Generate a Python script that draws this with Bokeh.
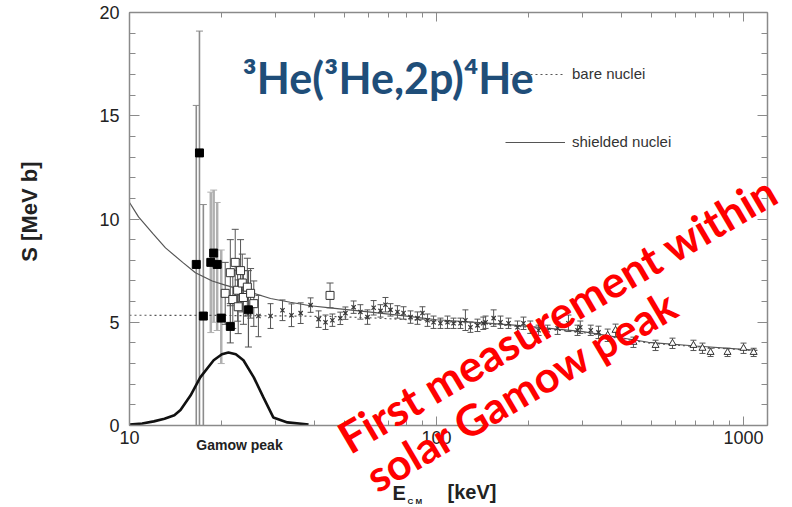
import numpy as np
from bokeh.plotting import figure
from bokeh.models import (ColumnDataSource, Whisker, TeeHead, Label, Legend, LegendItem,
                          LogAxis, LinearAxis, LogTicker, SingleIntervalTicker,
                          BasicTickFormatter)
from bokeh.embed import file_html
from bokeh.resources import INLINE

# ---------------- data ----------------
# shielded-nuclei curve (solid)
E_shielded = [10, 10.7, 11.9, 13.1, 14.9, 16.4, 18.6, 20.5, 24.8, 28.8, 33.4, 38.8, 45,
              60, 80, 100, 150, 200, 300, 490, 700, 1110]
S_shielded = [10.8, 10.1, 9.3, 8.6, 7.9, 7.4, 7.0, 6.8, 6.45, 6.15, 5.97, 5.8, 5.7,
              5.5, 5.3, 5.12, 4.95, 4.8, 4.55, 4.03, 3.85, 3.64]
# bare-nuclei curve (dotted)
E_bare = [10, 20, 30, 45, 60, 100, 150, 200, 300, 490, 700, 1110]
S_bare = [5.34, 5.33, 5.31, 5.28, 5.22, 5.06, 4.9, 4.76, 4.5, 4.0, 3.82, 3.62]
# Gamow peak (arbitrary units)
E_gamow = [10, 11, 12, 13, 14, 14.66, 15.8, 17.0, 18.8, 20.0, 21.0, 22.2, 23.5, 25.4,
           27.3, 29.4, 32.7, 38.3]
G_gamow = [0.05, 0.1, 0.2, 0.33, 0.5, 0.75, 1.45, 2.33, 3.16, 3.45, 3.54, 3.45, 3.16,
           2.33, 1.36, 0.39, 0.15, 0.05]

# LUNA (filled squares)
E_luna = [16.5, 16.9, 17.4, 18.4, 18.8, 19.3, 19.9, 21.3, 24.4]
S_luna = [7.8, 13.2, 5.3, 7.9, 8.35, 7.8, 5.2, 4.8, 5.6]
S_luna_lo = [0, 0, 0, 4.5, 5.0, 4.6, 3.0, 4.0, 3.8]
S_luna_hi = [15.5, 19.1, 10.7, 11.3, 11.4, 10.8, 8.5, 5.9, 7.5]

# open squares
E_open = [20.5, 21.3, 21.7, 22.1, 22.5, 22.6, 23.0, 23.3, 23.5, 24.2, 24.8, 25.4, 45.0]
S_open = [6.4, 7.4, 6.1, 7.9, 6.55, 5.75, 7.5, 6.9, 6.2, 6.7, 6.4, 5.9, 6.3]
err_open = [1.5, 1.6, 1.4, 1.6, 1.5, 1.3, 1.5, 1.4, 1.3, 1.4, 1.2, 1.1, 0.6]

# crosses
E_cross = [26.3, 28.8, 31.5, 33.7, 36.1, 38.9, 41.3, 43.5, 45.8, 48.6,
           50.5, 53.7, 56.5, 59.6, 62.4, 65.7, 68.2, 70.8, 74.6, 78.1,
           82.3, 86.7, 90.0, 93.5, 97.8, 103, 108.6, 113.6, 119.7, 124.2,
           129, 136, 142, 144.5, 153.5, 161.6, 171.6, 183.6, 192, 202,
           215, 230, 248, 269, 288, 294, 318, 337]
S_cross = [5.3, 5.3, 5.58, 5.34, 5.44, 5.83, 5.15, 5.0, 5.1, 5.19,
           5.44, 5.73, 5.5, 5.25, 5.7, 5.55, 5.85, 5.6, 5.5, 5.45,
           5.25, 5.2, 5.45, 5.1, 5.0, 4.95, 5.0, 4.95, 4.95, 5.1,
           4.76, 4.85, 4.95, 5.0, 5.2, 5.0, 4.95, 4.76, 4.95, 4.76,
           4.61, 4.61, 4.71, 4.95, 4.61, 4.76, 4.61, 4.51]
err_cross = [1.0, 0.6, 0.5, 0.55, 0.5, 0.35, 0.4, 0.35, 0.3, 0.3,
             0.3, 0.3, 0.35, 0.35, 0.35, 0.3, 0.35, 0.3, 0.3, 0.3,
             0.3, 0.3, 0.3, 0.3, 0.3, 0.25, 0.3, 0.25, 0.25, 0.5,
             0.25, 0.3, 0.3, 0.3, 0.4, 0.3, 0.25, 0.3, 0.3, 0.3,
             0.25, 0.25, 0.3, 0.4, 0.25, 0.3, 0.25, 0.3]

# triangles
E_tri = [361, 383, 438, 517, 587, 687, 735, 781, 887, 1000, 1079]
S_tri = [4.37, 4.61, 4.03, 3.88, 3.98, 3.88, 3.74, 3.54, 3.54, 3.74, 3.54]
err_tri = [0.3, 0.3, 0.25, 0.25, 0.25, 0.25, 0.25, 0.2, 0.2, 0.25, 0.2]

X_MIN, X_MAX = 10, 1197      # plotted energy range (keV)
Y_MIN, Y_MAX = 0, 20         # plotted S range

# ---------------- layout (pixels of the plotting box in the 792x507 canvas) ----------------
W, H = 792, 507
L, R, T, B = 129, 767, 12, 425
dec_px = (R - L) / (np.log10(X_MAX) - np.log10(X_MIN))
y_px = (B - T) / (Y_MAX - Y_MIN)
x_start = 10 ** (np.log10(X_MIN) - L / dec_px)
x_end = 10 ** (np.log10(X_MIN) + (W - L) / dec_px)
y_start = Y_MIN - (H - B) / y_px
y_end = Y_MAX + T / y_px


def at(px, py):
    """canvas pixel -> data coordinates, for placing annotations"""
    return 10 ** (np.log10(X_MIN) + (px - L) / dec_px), Y_MIN + (B - py) / y_px


p = figure(width=W, height=H, x_axis_type="log", x_range=(x_start, x_end),
           y_range=(y_start, y_end), output_backend="svg", toolbar_location=None,
           min_border=0, min_border_left=0, min_border_right=0, min_border_top=0,
           min_border_bottom=0)
p.xgrid.visible = False
p.ygrid.visible = False
p.outline_line_color = None
p.background_fill_color = "white"
p.border_fill_color = "white"

AX = "#8a8a8a"
LBL = "#222222"


def style_axis(ax, show_labels):
    ax.axis_line_color = AX
    ax.axis_line_width = 1.5
    ax.major_tick_line_color = AX
    ax.minor_tick_line_color = AX
    ax.major_tick_in = 9
    ax.major_tick_out = 0
    ax.minor_tick_in = 5
    ax.minor_tick_out = 0
    if show_labels:
        ax.major_label_text_font = "Liberation Sans"
        ax.major_label_text_font_size = "18px"
        ax.major_label_text_color = LBL
    else:
        ax.major_label_text_font_size = "1px"
        ax.major_label_text_alpha = 0
        ax.major_label_standoff = 0


xb = p.xaxis[0]
xb.ticker = LogTicker(num_minor_ticks=10, mantissas=[1])
xb.formatter = BasicTickFormatter(use_scientific=False)
style_axis(xb, True)
xb.major_label_standoff = 5
xb.fixed_location = Y_MIN
xb.bounds = (X_MIN, X_MAX)

yl = p.yaxis[0]
yl.ticker = SingleIntervalTicker(interval=5, num_minor_ticks=5)
style_axis(yl, True)
yl.major_tick_in = 10
yl.minor_tick_in = 6
yl.major_label_standoff = 10
yl.fixed_location = X_MIN
yl.bounds = (Y_MIN, Y_MAX)

xt = LogAxis(ticker=LogTicker(num_minor_ticks=10, mantissas=[1]),
             formatter=BasicTickFormatter(use_scientific=False))
style_axis(xt, False)
xt.fixed_location = Y_MAX
xt.bounds = (X_MIN, X_MAX)
p.add_layout(xt, "above")
yr = LinearAxis(ticker=SingleIntervalTicker(interval=5, num_minor_ticks=5))
style_axis(yr, False)
yr.major_tick_in = 10
yr.minor_tick_in = 6
yr.fixed_location = X_MAX
yr.bounds = (Y_MIN, Y_MAX)
p.add_layout(yr, "right")


# ---------------- error bars ----------------
def whisk(E, lo, hi, color, width, size=7):
    src = ColumnDataSource(dict(x=list(E), lo=list(lo), hi=list(hi)))
    w = Whisker(base="x", lower="lo", upper="hi", source=src, dimension="height",
                line_color=color, line_width=width,
                upper_head=TeeHead(size=size, line_color=color, line_width=1),
                lower_head=TeeHead(size=size, line_color=color, line_width=1))
    p.add_layout(w)


E_l = np.array(E_luna)
lo_l = np.array(S_luna_lo)
hi_l = np.array(S_luna_hi)
whisk(E_l[:3], lo_l[:3], hi_l[:3], "#8c8c8c", 1.6)
whisk(E_l[3:7], lo_l[3:7], hi_l[3:7], "#b0b0b0", 2.5)
whisk(E_l[7:], lo_l[7:], hi_l[7:], "#555555", 1.2)

S_o = np.array(S_open); e_o = np.array(err_open)
whisk(E_open, S_o - e_o, S_o + e_o, "#555555", 1.0)
S_c = np.array(S_cross); e_c = np.array(err_cross)
whisk(E_cross, S_c - e_c, S_c + e_c, "#555555", 1.0, 6)
S_t = np.array(S_tri); e_t = np.array(err_tri)
whisk(E_tri, S_t - e_t, S_t + e_t, "#555555", 1.0, 6)

# ---------------- curves ----------------
r_bare = p.line(E_bare, S_bare, line_color="#555555", line_width=1.2, line_dash="2 3")
r_sh = p.line(E_shielded, S_shielded, line_color="#555555", line_width=1.2)
p.line(E_gamow, G_gamow, line_color="#111111", line_width=2.6)

# ---------------- markers ----------------
p.scatter(E_open, S_open, marker="square", size=8, fill_color="white",
          line_color="#333333", line_width=1)
p.scatter(E_cross, S_cross, marker="x", size=6, line_color="#333333", line_width=1.2)
p.scatter(E_tri, S_tri, marker="triangle", size=7, fill_color="white",
          line_color="#333333", line_width=1)
p.scatter(E_luna, S_luna, marker="square", size=8, fill_color="black", line_color="black")

# ---------------- legend ----------------
legend = Legend(items=[LegendItem(label="bare nuclei", renderers=[r_bare]),
                       LegendItem(label="shielded nuclei", renderers=[r_sh])],
                location=(505, H - 150), orientation="vertical",
                glyph_width=60, glyph_height=16, label_height=16, spacing=51,
                label_standoff=7, padding=0, margin=0,
                border_line_alpha=0, background_fill_alpha=0,
                label_text_font="Liberation Sans", label_text_font_size="15px",
                label_text_color="#333333")
p.add_layout(legend)


# ---------------- texts ----------------
def label(px, py, text, **kw):
    x, y = at(px, py)
    p.add_layout(Label(x=x, y=y, text=text, **kw))


label(29, 208, "S  [MeV b]", text_font="Liberation Sans", text_font_style="bold",
      text_font_size="22px", text_color=LBL, angle=90, angle_units="deg",
      text_align="center", text_baseline="middle")
label(242, 77, "³He(³He,2p)⁴He", text_font="Lato", text_font_style="bold",
      text_font_size="43px", text_color="#1f4e79", text_baseline="alphabetic",
      text_align="left")
label(239, 444, "Gamow peak", text_font="Liberation Sans", text_font_style="bold",
      text_font_size="14px", text_color=LBL, text_align="center",
      text_baseline="alphabetic")
label(392, 492, "E", text_font="Liberation Sans", text_font_style="bold",
      text_font_size="20px", text_color=LBL, text_align="left",
      text_baseline="alphabetic")
label(407, 501, "C M", text_font="Liberation Sans", text_font_style="bold",
      text_font_size="8px", text_color=LBL, text_align="left",
      text_baseline="alphabetic")
label(447, 491, "[keV]", text_font="Liberation Sans", text_font_style="bold",
      text_font_size="20px", text_color=LBL, text_align="left",
      text_baseline="alphabetic")
label(341, 440, "First measurement within", text_font="Lato", text_font_style="bold",
      text_font_size="44px", text_color="#ff0000", angle=30.5, angle_units="deg",
      text_align="left", text_baseline="alphabetic")
label(369, 479, "solar Gamow peak", text_font="Lato", text_font_style="bold",
      text_font_size="43px", text_color="#ff0000", angle=30.5, angle_units="deg",
      text_align="left", text_baseline="alphabetic")

open("out.html", "w").write(file_html(p, INLINE))
